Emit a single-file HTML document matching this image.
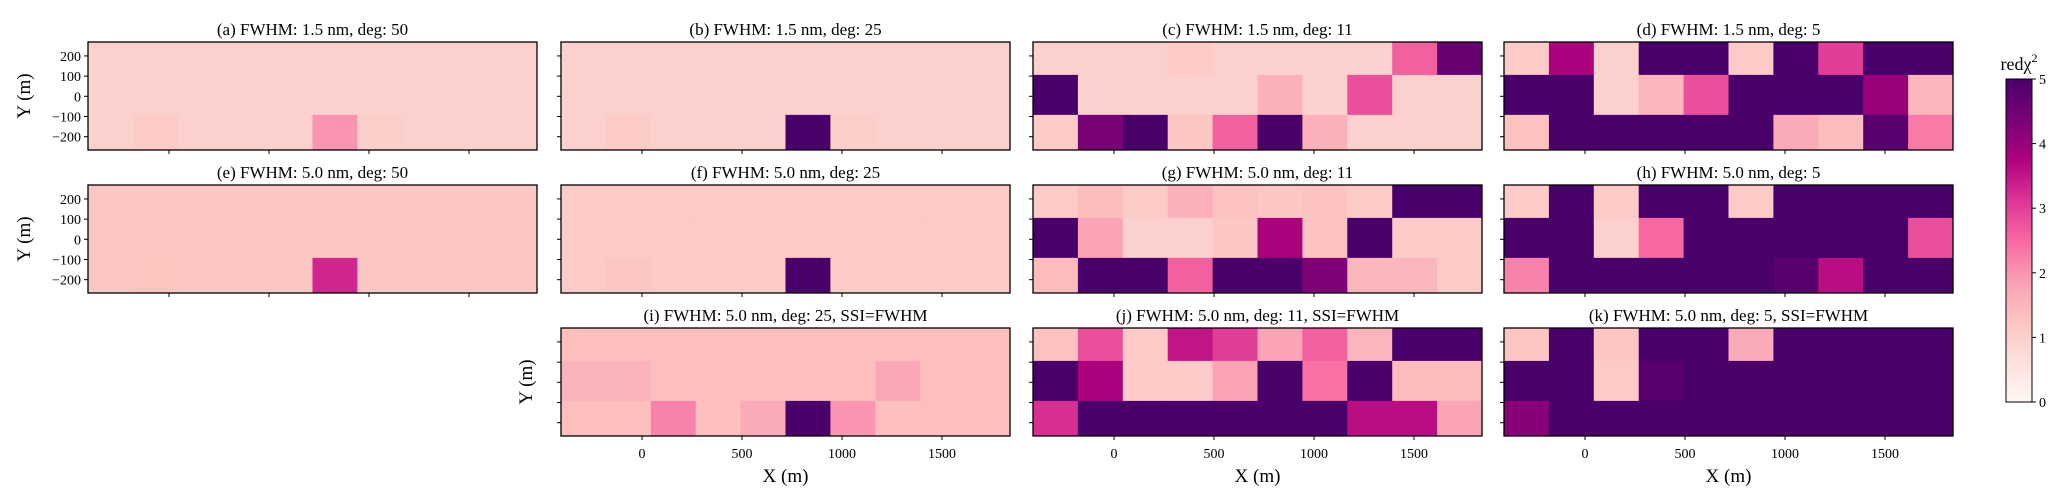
<!DOCTYPE html>
<html><head><meta charset="utf-8">
<style>
html,body{margin:0;padding:0;background:#fff;}
svg{display:block;font-family:"Liberation Serif",serif;}
</style></head>
<body>
<svg id="fig" width="2067" height="504" viewBox="0 0 2067 504" xmlns="http://www.w3.org/2000/svg"></svg>
<script>
// ---- data ----
const panelTitles = ["(a) FWHM: 1.5 nm, deg: 50","(b) FWHM: 1.5 nm, deg: 25","(c) FWHM: 1.5 nm, deg: 11","(d) FWHM: 1.5 nm, deg: 5",
"(e) FWHM: 5.0 nm, deg: 50","(f) FWHM: 5.0 nm, deg: 25","(g) FWHM: 5.0 nm, deg: 11","(h) FWHM: 5.0 nm, deg: 5",
"(i) FWHM: 5.0 nm, deg: 25, SSI=FWHM","(j) FWHM: 5.0 nm, deg: 11, SSI=FWHM","(k) FWHM: 5.0 nm, deg: 5, SSI=FWHM"];
const valsA = [[1,1,1,1,1,1,1,1,1,1],[1,1,1,1,1,1,1,1,1,1],[1,1.1,1,1,1,2,1.05,1,1,1]];
const valsB = [[1,1,1,1,1,1,1,1,1,1],[1,1,1,1,1,1,1,1,1,1],[1,1.1,1,1,1,5,1.05,1,1,1]];
const valsC = [[1,1,1,1.1,1,1,1,1,2.6,4.6],[5,1,1,1,1,1.6,1,2.8,1,1],[1.1,4.4,5,1.2,2.6,5,1.6,1,1,1]];
const valsD = [[1.1,3.8,1,5,5,1.1,5,3,5,5],[5,5,1,1.5,2.8,5,5,5,4,1.5],[1.3,5,5,5,5,5,1.7,1.4,4.8,2.3]];
const valsE = [[1.2,1.2,1.2,1.2,1.2,1.2,1.2,1.2,1.2,1.2],[1.2,1.2,1.2,1.2,1.2,1.2,1.2,1.2,1.2,1.2],[1.2,1.25,1.2,1.2,1.2,3.3,1.2,1.2,1.2,1.2]];
const valsF = [[1.1,1.1,1.1,1.1,1.1,1.1,1.1,1.1,1.1,1.1],[1.1,1.1,1.1,1.1,1.1,1.1,1.1,1.1,1.1,1.1],[1.1,1.2,1.1,1.1,1.1,5,1.1,1.1,1.1,1.1]];
const valsG = [[1.1,1.4,1.1,1.6,1.3,1.2,1.3,1.1,5,5],[5,1.8,1,1,1.2,3.8,1.3,5,1.1,1.1],[1.4,5,5,2.6,5,5,4.3,1.5,1.5,1.1]];
const valsH = [[1.1,5,1.1,5,5,1.1,5,5,5,5],[5,5,1,2.5,5,5,5,5,5,2.8],[2.2,5,5,5,5,5,4.8,3.6,5,5]];
const valsI = [[1.35,1.35,1.35,1.35,1.35,1.35,1.35,1.35,1.35,1.35],[1.55,1.55,1.35,1.35,1.35,1.35,1.35,1.75,1.35,1.35],[1.35,1.35,2.2,1.35,1.7,5,2.0,1.35,1.35,1.35]];
const valsJ = [[1.3,2.8,1.1,3.5,3,1.8,2.6,1.5,5,5],[5,3.8,1.1,1.1,1.8,5,2.4,5,1.4,1.4],[3.2,5,5,5,5,5,5,3.6,3.6,1.8]];
const valsK = [[1.2,5,1.2,5,5,1.7,5,5,5,5],[5,5,1.1,4.8,5,5,5,5,5,5],[4.2,5,5,5,5,5,5,5,5,5]];
const xTicks = [0,500,1000,1500];
const yTicks = [200,100,0,-100,-200];
const yRowEdges = [269,106,-92,-266];
const cbTicks = [0,1,2,3,4,5];
// ---- layout ----
const XMIN=-405, XMAX=1840, NCOL=10;
const PW=449, PH=108;
const colX=[88,561,1033,1504];
const rowY=[42,185,328];
const panels=[
 {v:valsA,c:0,r:0},{v:valsB,c:1,r:0},{v:valsC,c:2,r:0},{v:valsD,c:3,r:0},
 {v:valsE,c:0,r:1},{v:valsF,c:1,r:1},{v:valsG,c:2,r:1},{v:valsH,c:3,r:1},
 {v:valsI,c:1,r:2},{v:valsJ,c:2,r:2},{v:valsK,c:3,r:2}];
const RDPU=["#fff7f3","#fde0dd","#fcc5c0","#fa9fb5","#f768a1","#dd3497","#ae017e","#7a0177","#49006a"];
function hex(h){return [1,3,5].map(i=>parseInt(h.substr(i,2),16));}
function cmap(v){let t=Math.max(0,Math.min(5,v))/5*(RDPU.length-1);let i=Math.min(RDPU.length-2,Math.floor(t));let f=t-i;
 const a=hex(RDPU[i]),b=hex(RDPU[i+1]);return "rgb("+a.map((x,k)=>Math.round(x+(b[k]-x)*f)).join(",")+")";}
const NS="http://www.w3.org/2000/svg";
const svg=document.getElementById("fig");
function mk(tag,attrs,parent){const e=document.createElementNS(NS,tag);for(const k in attrs)e.setAttribute(k,attrs[k]);(parent||svg).appendChild(e);return e;}
panels.forEach((p,idx)=>{
 const x0=colX[p.c], y0=rowY[p.r];
 const sx=v=>x0+(v-XMIN)/(XMAX-XMIN)*PW;
 const sy=v=>y0+(yRowEdges[0]-v)/(yRowEdges[0]-yRowEdges[3])*PH;
 const g=mk("g",{});
 
 
 const t=mk("text",{x:x0+PW/2,y:y0-7,"text-anchor":"middle","font-size":"17"},g);
 t.textContent=panelTitles[idx];
 
 
 const cw=(XMAX-XMIN)/NCOL;
 p.v.forEach((row,ri)=>row.forEach((val,ci)=>{
  const xa=sx(XMIN+ci*cw), xb=sx(XMIN+(ci+1)*cw), ya=sy(yRowEdges[ri]), yb=sy(yRowEdges[ri+1]);
  const r=mk("rect",{x:xa,y:ya,width:xb-xa+0.5,height:yb-ya+0.5,fill:cmap(val)},g);
  
  
 }));
 const fr=mk("rect",{x:x0,y:y0,width:PW,height:PH,fill:"none",stroke:"#000","stroke-width":"1.3"},g);
 
 
 yTicks.forEach(v=>{
  mk("line",{x1:x0-4,x2:x0,y1:sy(v),y2:sy(v),stroke:"#000","stroke-width":"1"},g);
  if(p.c===0){const l=mk("text",{x:x0-7,y:sy(v)+5,"text-anchor":"end","font-size":"14"},g);
   l.textContent=(v<0?"\u2212"+(-v):v);
   
   }
 });
 xTicks.forEach(v=>{
  mk("line",{x1:sx(v),x2:sx(v),y1:y0+PH,y2:y0+PH+4,stroke:"#000","stroke-width":"1"},g);
  if(p.r===2){const l=mk("text",{x:sx(v),y:y0+PH+22,"text-anchor":"middle","font-size":"14"},g);
   l.textContent=v;
   
   }
 });
 if(p.r===2){const l=mk("text",{x:x0+PW/2,y:y0+PH+46,"text-anchor":"middle","font-size":"19"},g);
  l.textContent="X (m)";
  
  }
 if(p.c===0 || (p.r===2&&p.c===1)){
  const lx=p.c===0?30:532;
  const l=mk("text",{x:lx,y:y0+PH/2,"text-anchor":"middle","font-size":"19",transform:"rotate(-90 "+lx+" "+(y0+PH/2)+")"},g);
  l.textContent="Y (m)";
  
  }
});
// colorbar
const CBX=2006,CBW=26,CBT=79,CBB=402;
const defs=mk("defs",{});
const lg=mk("linearGradient",{id:"cbg",x1:"0",y1:"1",x2:"0",y2:"0"},defs);
RDPU.forEach((c,i)=>mk("stop",{offset:(i/(RDPU.length-1)),"stop-color":c},lg));
const cb=mk("rect",{x:CBX,y:CBT,width:CBW,height:CBB-CBT,fill:"url(#cbg)",stroke:"#000","stroke-width":"1"});


cbTicks.forEach(v=>{
 const y=CBB-(v/5)*(CBB-CBT);
 mk("line",{x1:CBX+CBW,x2:CBX+CBW+4,y1:y,y2:y,stroke:"#000"});
 const l=mk("text",{x:CBX+CBW+7,y:y+5,"font-size":"14"});
 l.textContent=v;
 
 
});
const cbt=mk("text",{x:CBX+CBW/2,y:70,"text-anchor":"middle","font-size":"18"});
cbt.innerHTML='red\u03c7<tspan dy="-8" font-size="12">2</tspan>';


</script>
</body></html>
